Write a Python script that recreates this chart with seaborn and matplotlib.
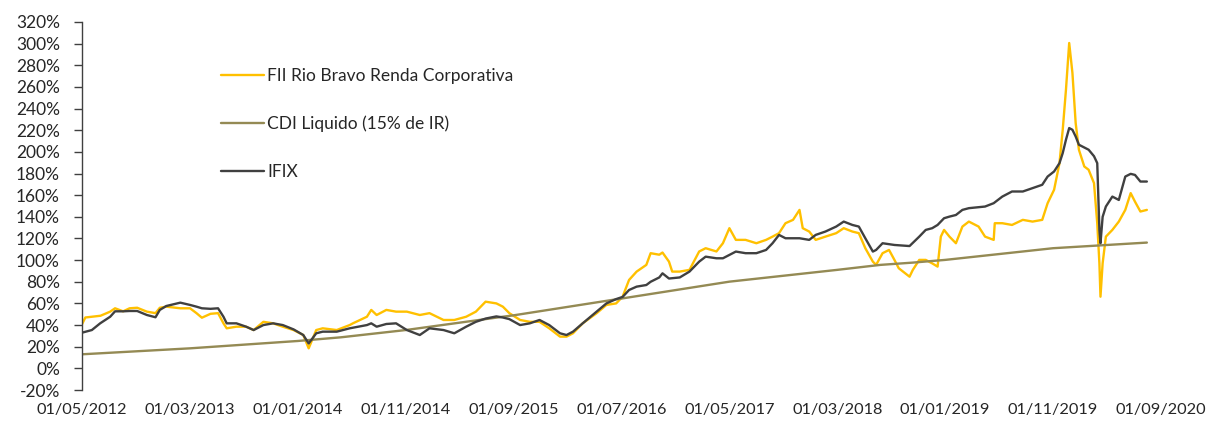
import matplotlib
matplotlib.use("Agg")
import matplotlib.pyplot as plt
import seaborn as sns
import numpy as np

# eixo x em meses desde 01/05/2012
tick_labels = ['01/05/2012', '01/03/2013', '01/01/2014', '01/11/2014', '01/09/2015',
               '01/07/2016', '01/05/2017', '01/03/2018', '01/01/2019', '01/11/2019', '01/09/2020']
tick_months = [0, 10, 20, 30, 40, 50, 60, 70, 80, 90, 100]

# FII Rio Bravo Renda Corporativa (%)
fii_m = [0, 0.3, 0.9, 1.7, 2.6, 3.05, 3.8, 4.4, 5.1, 6, 6.8, 7.2, 7.8, 9.1, 10, 10.6, 11.1, 11.9,
         12.6, 13.1, 13.4, 14.3, 15.2, 15.9, 16.8, 17.7, 18.6, 19.6, 20.5, 21, 21.7, 22.3, 23.6,
         24.8, 25.1, 26.4, 26.8, 27.3, 28.2, 29.1, 30.1, 31.3, 32.2, 33.5, 34.5, 35.6, 36.5, 37.4,
         38.4, 39, 39.6, 40.6, 41.5, 42.4, 43.3, 44.3, 44.9, 45.5, 46.4, 47.7, 48.6, 49.5, 50.1,
         50.7, 51.4, 52.3, 52.7, 53.5, 53.8, 54.4, 54.7, 55.4, 56.3, 57.2, 57.8, 58.8, 59.4, 60,
         60.6, 61.5, 62.5, 63.4, 64, 64.6, 65.2, 65.9, 66.5, 66.8, 67.4, 68, 68.9, 69.9, 70.6,
         71.4, 72, 72.6, 73.3, 73.6, 74.2, 74.8, 75.3, 75.7, 76.7, 77, 77.6, 78.2, 78.8, 79.3,
         79.6, 79.9, 80.4, 81, 81.6, 82.2, 83.1, 83.7, 84.5, 84.6, 85.3, 86.2, 87.2, 88.1, 89,
         89.5, 90.1, 90.6, 90.9, 91.2, 91.5, 91.8, 92.1, 92.4, 92.9, 93.3, 93.8, 94.1, 94.3,
         94.4, 94.6, 94.9, 95.5, 96.1, 96.7, 97.2, 97.6, 98.1, 98.7]
fii_v = [41, 47, 47.7, 48.6, 52.4, 55.5, 52.7, 55.5, 56, 52.4, 51, 56, 57, 55.5, 55.5, 51, 46.8, 50.4,
         51, 41.6, 37, 38.5, 38.5, 35.4, 43, 41.6, 38.5, 35.4, 30.8, 18.5, 35.4, 37, 35.4,
         40, 41.6, 47.7, 54, 49.3, 54, 52.4, 52.4, 49.3, 51, 44.7, 44.7, 47.7, 52.4, 61.6,
         60, 57, 51, 44.7, 43, 43, 37, 29.3, 29.3, 32.4, 41.6, 51, 58.6, 60, 66.2,
         81.7, 89.4, 95.6, 106.4, 105, 107, 98.6, 89.4, 89.4, 91, 108, 111, 108, 115.6, 129.5,
         118.7, 118.7, 115.6, 118.7, 121.7, 124.9, 134.1, 137.2, 146.4, 129.5, 126.4, 118.7, 121.7, 124.9, 129.5,
         126.4, 124.9, 111, 98.6, 95.6, 106.4, 109.4, 100.2, 92.5, 84.7, 90.9, 100.2, 100.2, 97, 94,
         121.7, 127.9, 121.7, 115.6, 131, 135.6, 131, 121.7, 118.7, 134.1, 134.1, 132.5, 137.2, 135.6, 137.2,
         152.6, 165, 189.6, 220.4, 257.4, 300.6, 272.9, 226.6, 202, 186.5, 183.5, 171.1, 134.1, 97.1,
         66.2, 97.1, 121.7, 127.9, 135.6, 146.4, 161.9, 154, 144.9, 146.4]

# CDI Liquido (15% de IR) (%)
cdi_m = [0, 10, 20, 24, 30, 39, 40, 49, 50, 60, 70, 74, 77, 80, 90, 98.7]
cdi_v = [13, 18.5, 25.3, 28.7, 35.4, 47.7, 49, 63, 64.5, 80.1, 91, 95.6, 97.7, 100.2, 111, 116.2]

# IFIX (%)
ifix_m = [0, 0.9, 1.67, 2.6, 3.05, 3.8, 4.4, 5.1, 6, 6.8, 7.2, 7.8, 9.1, 10, 10.6, 11.1, 11.9, 12.6,
          13.1, 13.4, 14.3, 15.2, 15.9, 16.8, 17.7, 18.6, 19.6, 20.5, 21, 21.7, 22.3, 23.6, 24.8,
          26.4, 26.8, 27.3, 28.2, 29.1, 30.1, 31.3, 32.2, 33.5, 34.5, 35.6, 36.5, 37.4, 38.4, 39,
          39.6, 40.6, 41.5, 42.4, 43.3, 44.3, 44.9, 45.5, 46.4, 47.7, 48.6, 49.5, 50.1, 50.7,
          51.4, 52.3, 52.7, 53.5, 53.8, 54.4, 55.4, 56.3, 57.2, 57.8, 58.8, 59.4, 60, 60.6, 61.5,
          62.5, 63.4, 64, 64.6, 65.2, 66.5, 67.4, 68, 68.9, 69.9, 70.6, 71.4, 72, 72.6, 73.3,
          73.6, 74.2, 75.3, 76.7, 77.6, 78.2, 78.8, 79.3, 79.9, 80.4, 81, 81.6, 82.2, 83.7, 84.5,
          85.3, 86.2, 87.2, 88.1, 89, 89.5, 90.1, 90.6, 90.9, 91.2, 91.5, 91.8, 92.1, 92.4, 93.3,
          93.8, 94.1, 94.3, 94.4, 94.6, 94.9, 95.5, 96.1, 96.7, 97.2, 97.6, 98.1, 98.7]
ifix_v = [33, 35.4, 41.6, 47.7, 52.7, 52.7, 53, 53, 49.3, 47.2, 54, 57.6, 60.7, 58.6, 57, 55.5, 55, 55.5,
          47.7, 41.6, 41.6, 38.5, 35.4, 40, 41.6, 40, 36, 30.8, 23, 32.4, 33.9, 33.9, 37,
          40, 41.6, 38.5, 41, 41.6, 35.4, 30.8, 37, 35.4, 32.4, 38.5, 43, 46, 48, 47,
          45.5, 40, 41.6, 44.7, 40, 32.4, 30.8, 33.9, 41.6, 52.4, 60, 64, 66, 72.4,
          75.5, 77, 80, 84, 87.8, 83, 84, 89.4, 98.6, 103.2, 101.7, 101.7, 104.8, 107.9, 106.4,
          106.4, 109.4, 115.6, 123.3, 120.2, 120.2, 118.7, 123.3, 126.4, 131, 135.6, 132.5, 131, 120.2, 107.9,
          109.4, 115.6, 114, 113, 121.7, 127.9, 129.5, 132.5, 138.7, 140.2, 141.7, 146.4, 148, 149.5, 152.6,
          158.7, 163.4, 163.4, 166.5, 169.6, 177.2, 181.9, 189.6, 198.9, 211.2, 222, 220.4, 214.2, 206.6, 202,
          196, 189.6, 127.9, 115.6, 140, 149.5, 158.7, 155.6, 177.2, 179.7, 178.7, 172.6, 172.6]

sns.set_style("white")
plt.rcParams['font.family'] = ['Lato', 'DejaVu Sans']

fig = plt.figure(figsize=(12.08, 4.23), dpi=100)
ax = fig.add_axes([0.068, 0.078, 0.893, 0.87])

sns.lineplot(x=fii_m, y=fii_v, color='#FFC000', linewidth=1.7, ax=ax,
             label='FII Rio Bravo Renda Corporativa')
sns.lineplot(x=cdi_m, y=cdi_v, color='#948A54', linewidth=1.7, ax=ax,
             label='CDI Liquido (15% de IR)')
sns.lineplot(x=ifix_m, y=ifix_v, color='#404040', linewidth=1.7, ax=ax, label='IFIX')

ax.set_xlim(0, 100)
ax.set_ylim(-20, 320)
ax.set_yticks(np.arange(-20, 321, 20))
ax.set_yticklabels(['{}%'.format(v) for v in range(-20, 321, 20)])
ax.set_xticks(tick_months)
ax.set_xticklabels(tick_labels)

for s in ['top', 'right', 'bottom']:
    ax.spines[s].set_visible(False)
ax.spines['left'].set_color('#404040')
ax.spines['left'].set_linewidth(1.0)
ax.tick_params(axis='y', direction='out', length=6, width=1, color='#404040',
               labelsize=12.5, labelcolor='#262626', pad=10, left=True)
ax.tick_params(axis='x', length=0, labelsize=11.8, labelcolor='#262626', pad=9)

leg = ax.legend(loc='upper left', bbox_to_anchor=(0.183, 0.84), bbox_transform=fig.transFigure,
                frameon=False, fontsize=12.5, handlelength=2.5, handletextpad=0.15,
                labelspacing=1.85, borderpad=0, borderaxespad=0)
for t in leg.get_texts():
    t.set_color('#262626')

plt.savefig('out.png', dpi=100)
